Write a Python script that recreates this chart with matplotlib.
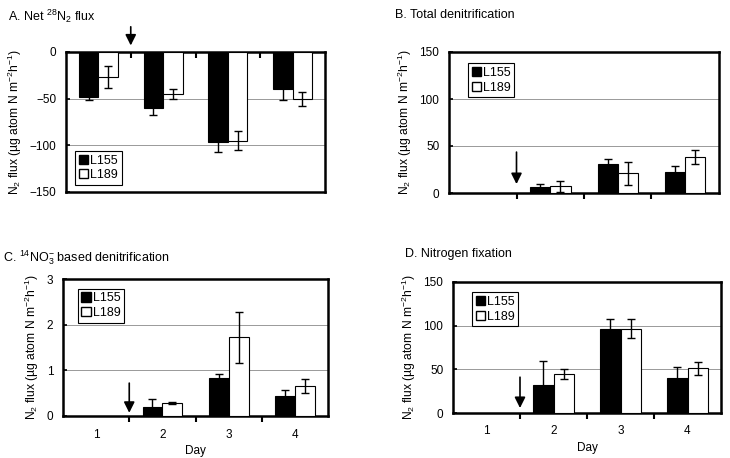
import matplotlib
matplotlib.use('Agg')
import matplotlib.pyplot as plt
from matplotlib.patches import Patch
import numpy as np

plt.rcParams['font.family'] = ['Liberation Sans', 'DejaVu Sans']
plt.rcParams['mathtext.fontset'] = 'custom'
plt.rcParams['mathtext.rm'] = 'Liberation Sans'
plt.rcParams['mathtext.it'] = 'Liberation Sans:italic'

days = [1, 2, 3, 4]
day_labels = ['1', '2', '3', '4']
series_names = ['L155', 'L189']

# A. Net 28N2 flux
net_l155 = [-48, -60, -96, -40]
net_l155_err = [3, 7, 11, 11.5]
net_l189 = [-27, -45, -95, -50]
net_l189_err = [11.5, 5, 10.5, 7.5]

# B. Total denitrification (no data on day 1)
tot_l155 = [np.nan, 6, 31, 22]
tot_l155_err = [np.nan, 3.5, 5.7, 6.5]
tot_l189 = [np.nan, 7, 21, 38]
tot_l189_err = [np.nan, 5.5, 12, 7.5]

# C. 14NO3- based denitrification
no3_l155 = [np.nan, 0.2, 0.83, 0.43]
no3_l155_err = [np.nan, 0.18, 0.09, 0.13]
no3_l189 = [np.nan, 0.28, 1.72, 0.66]
no3_l189_err = [np.nan, 0.02, 0.56, 0.16]

# D. Nitrogen fixation
fix_l155 = [np.nan, 32, 96.5, 40.5]
fix_l155_err = [np.nan, 28, 11.5, 12.5]
fix_l189 = [np.nan, 45, 96.5, 51]
fix_l189_err = [np.nan, 5.7, 11, 7.5]

W, H = 730, 458
fig = plt.figure(figsize=(W / 100, H / 100), dpi=100)

def box(x0, y0, x1, y1):
    return [x0 / W, 1 - y1 / H, (x1 - x0) / W, (y1 - y0) / H]

ylab = r'N$_2$ flux (µg atom N m$^{-2}$h$^{-1}$)'
bw = 0.3

def panel(rect, l155, e155, l189, e189, ylim, yticks, title, title_xy,
          arrow, legend_loc, legend_anchor, xlabels=False, top_axis=False):
    ax = fig.add_axes(rect)
    x = np.array(days)
    ek = dict(ecolor='black', elinewidth=1.0, capsize=3, capthick=1.0)
    ax.bar(x - bw / 2, l155, bw, color='black', edgecolor='black', lw=0.8,
           yerr=e155, error_kw=ek, zorder=3)
    ax.bar(x + bw / 2, l189, bw, color='white', edgecolor='black', lw=0.8,
           yerr=e189, error_kw=ek, zorder=3)
    ax.set_xlim(0.5, 4.5)
    ax.set_ylim(*ylim)
    ax.set_yticks(yticks)
    ax.set_yticklabels([('%g' % t).replace('-', '\u2212') for t in yticks], fontsize=8.5)
    for t in yticks[1:-1]:
        ax.axhline(t, color='#999999', lw=0.7, zorder=1)
    for s in ax.spines.values():
        s.set_linewidth(1.8)
    ax.tick_params(axis='y', direction='in', length=3, width=1.2, pad=7)
    ax.set_xticks([1.5, 2.5, 3.5])
    ax.set_xticklabels([])
    if top_axis:
        ax.xaxis.tick_top()
        ax.tick_params(axis='x', direction='in', length=4, width=1.5)
    else:
        ax.tick_params(axis='x', direction='out', length=4, width=1.5)
    if xlabels:
        ax.set_xticks(days, minor=True)
        ax.set_xticklabels(day_labels, minor=True, fontsize=8.5)
        ax.tick_params(axis='x', which='minor', length=0, pad=9)
        ax.set_xlabel('Day', fontsize=8.5, labelpad=3)
    ax.set_ylabel(ylab, fontsize=8.7, labelpad=4)
    fig.text(title_xy[0] / W, 1 - title_xy[1] / H, title, fontsize=9, va='center', ha='left')
    ax.annotate('', xy=(1.5, arrow[0]), xytext=(1.5, arrow[1]), annotation_clip=False,
                arrowprops=dict(arrowstyle='-|>', color='black', lw=1.2, mutation_scale=16,
                                shrinkA=0, shrinkB=0))
    handles = [Patch(facecolor='black', edgecolor='black', label=series_names[0]),
               Patch(facecolor='white', edgecolor='black', label=series_names[1])]
    leg = ax.legend(handles=handles, loc=legend_loc, bbox_to_anchor=legend_anchor,
                    fontsize=9, fancybox=False, edgecolor='black', framealpha=1,
                    handlelength=0.75, handleheight=0.75, handletextpad=0.15,
                    borderpad=0.3, labelspacing=0.2, borderaxespad=0)
    leg.get_frame().set_linewidth(0.8)
    leg.set_zorder(5)
    return ax

panel(box(66, 52, 325, 192), net_l155, net_l155_err, net_l189, net_l189_err,
      (-150, 0), [-150, -100, -50, 0], r'A. Net $^{28}$N$_2$ flux', (8, 16),
      (7, 27), 'lower left', (0.035, 0.05), top_axis=True)
panel(box(449, 52, 719, 193), tot_l155, tot_l155_err, tot_l189, tot_l189_err,
      (0, 150), [0, 50, 100, 150], 'B. Total denitrification', (395, 15),
      (9.5, 43.5), 'upper left', (0.07, 0.92))
panel(box(63, 279, 328, 416), no3_l155, no3_l155_err, no3_l189, no3_l189_err,
      (0, 3), [0, 1, 2, 3], r'C. $^{14}$NO$_3^{-}$ based denitrification', (3, 258),
      (0.07, 0.72), 'upper left', (0.055, 0.93), xlabels=True)
panel(box(453, 282, 721, 413), fix_l155, fix_l155_err, fix_l189, fix_l189_err,
      (0, 150), [0, 50, 100, 150], 'D. Nitrogen fixation', (405, 254),
      (5.7, 41), 'upper left', (0.07, 0.92), xlabels=True)

fig.savefig('out.png', dpi=100)
